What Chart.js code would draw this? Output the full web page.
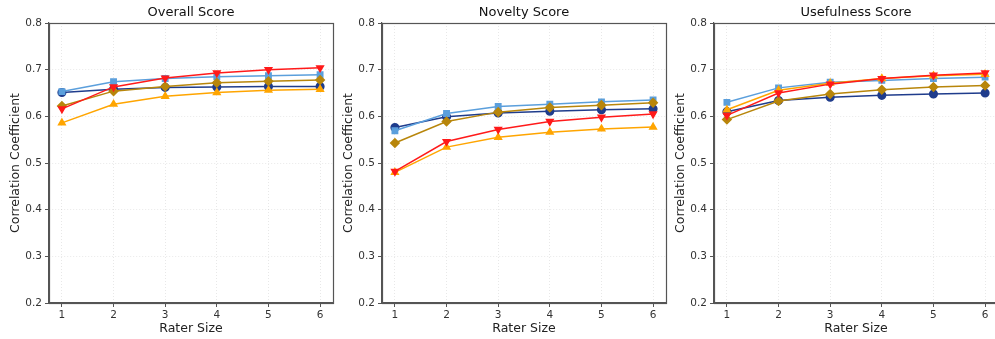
<!DOCTYPE html>
<html>
<head>
<meta charset="utf-8">
<script src="https://cdn.jsdelivr.net/npm/chart.js@4"></script>
<style>
    body { margin: 0; background: #fff; overflow: hidden; width: 995px; height: 339px; position: relative; }
    canvas { position: absolute; top: 0; }
</style>
</head>
<body>
<canvas id="overallChart" width="343" height="339" style="left:0px"></canvas>
<canvas id="noveltyChart" width="343" height="339" style="left:333px"></canvas>
<canvas id="usefulnessChart" width="343" height="339" style="left:665px"></canvas>
<script>
// Data
const raterSizes = [1, 2, 3, 4, 5, 6];
const yTicks = [0.2, 0.3, 0.4, 0.5, 0.6, 0.7, 0.8];

const overallDarkBlue  = [0.651, 0.658, 0.662, 0.663, 0.664, 0.664];
const overallLightBlue = [0.653, 0.674, 0.681, 0.685, 0.687, 0.689];
const overallRed       = [0.616, 0.663, 0.682, 0.693, 0.700, 0.704];
const overallOrange    = [0.586, 0.626, 0.643, 0.651, 0.656, 0.658];
const overallGold      = [0.622, 0.654, 0.664, 0.672, 0.675, 0.678];

const noveltyDarkBlue  = [0.576, 0.599, 0.607, 0.611, 0.614, 0.616];
const noveltyLightBlue = [0.569, 0.606, 0.621, 0.626, 0.631, 0.635];
const noveltyRed       = [0.482, 0.546, 0.572, 0.589, 0.598, 0.605];
const noveltyOrange    = [0.480, 0.534, 0.555, 0.566, 0.573, 0.577];
const noveltyGold      = [0.543, 0.589, 0.609, 0.619, 0.624, 0.629];

const usefulDarkBlue   = [0.610, 0.634, 0.641, 0.645, 0.648, 0.650];
const usefulLightBlue  = [0.630, 0.661, 0.673, 0.677, 0.681, 0.684];
const usefulRed        = [0.602, 0.650, 0.669, 0.681, 0.688, 0.693];
const usefulOrange     = [0.614, 0.656, 0.671, 0.681, 0.687, 0.690];
const usefulGold       = [0.593, 0.633, 0.648, 0.657, 0.663, 0.666];

const FONT = "'DejaVu Sans', sans-serif";
const SPINE = "#555";
const GRID = "rgba(0,0,0,0.09)";

// Draws the panel title and closes the axes box on top and right
const frameBox = {
    id: "frameBox",
    afterDraw(chart, args, opts) {
        const { ctx, chartArea: a } = chart;
        ctx.save();
        ctx.strokeStyle = SPINE;
        ctx.lineWidth = 1.2;
        ctx.strokeRect(Math.round(a.left) + 0.5, Math.round(a.top) + 0.5,
            Math.round(a.right - a.left), Math.round(a.bottom - a.top));
        ctx.fillStyle = "#111";
        ctx.font = "13px " + FONT;
        ctx.textAlign = "center";
        ctx.textBaseline = "middle";
        ctx.fillText(opts.text, (a.left + a.right) / 2, 13);
        ctx.restore();
    }
};

function series(label, data, color, style, rotation, order) {
    return {
        label: label,
        data: raterSizes.map((x, i) => ({ x: x, y: data[i] })),
        borderColor: color,
        backgroundColor: color,
        borderWidth: 1.5,
        pointStyle: style,
        pointRotation: rotation,
        pointRadius: style === "rectRot" ? 4.2 : 3.8,
        order: order,
    };
}

function makeChart(id, title, darkBlue, lightBlue, red, orange, gold) {
    const ctx = document.getElementById(id);
    return new Chart(ctx, {
        type: "line",
        data: {
            datasets: [
                series("Dark blue", darkBlue, "#1f3c8c", "circle", 0, 5),
                series("Light blue", lightBlue, "#5b9fdc", "rect", 0, 4),
                series("Red", red, "#ff1a1a", "triangle", 180, 1),
                series("Orange", orange, "#ffa500", "triangle", 0, 3),
                series("Gold", gold, "#b8860b", "rectRot", 0, 2),
            ]
        },
        options: {
            responsive: false,
            animation: false,
            layout: { padding: { top: 23, right: 10, left: 0, bottom: 0 } },
            plugins: {
                legend: { display: false },
                tooltip: { enabled: false },
                frameBox: { text: title }
            },
            scales: {
                x: {
                    type: "linear",
                    min: 0.75,
                    max: 6.25,
                    afterBuildTicks: (s) => { s.ticks = raterSizes.map(v => ({ value: v })); },
                    afterFit: (s) => { s.height = 36; },
                    ticks: { color: "#333", font: { family: FONT, size: 10.5 }, padding: 2, maxRotation: 0,
                        callback: (v) => String(v) },
                    grid: { color: GRID, tickColor: SPINE, tickLength: 4 },
                    border: { color: SPINE, width: 1.2, dash: [1, 2] },
                    title: { display: true, text: "Rater Size", color: "#222",
                        font: { family: FONT, size: 12.5 }, padding: { top: 0, bottom: 3 } }
                },
                y: {
                    min: 0.2,
                    max: 0.8,
                    afterBuildTicks: (s) => { s.ticks = yTicks.map(v => ({ value: v })); },
                    afterFit: (s) => { s.width = 49; },
                    ticks: { color: "#333", font: { family: FONT, size: 10.5 }, padding: 3,
                        callback: (v) => v.toFixed(1) },
                    grid: { color: GRID, tickColor: SPINE, tickLength: 4 },
                    border: { color: SPINE, width: 1.2, dash: [1, 2] },
                    title: { display: true, text: "Correlation Coefficient", color: "#222",
                        font: { family: FONT, size: 12.5 }, padding: { top: 8, bottom: 0 } }
                }
            }
        },
        plugins: [frameBox]
    });
}

window.onload = () => {
    makeChart("overallChart", "Overall Score",
        overallDarkBlue, overallLightBlue, overallRed, overallOrange, overallGold);
    makeChart("noveltyChart", "Novelty Score",
        noveltyDarkBlue, noveltyLightBlue, noveltyRed, noveltyOrange, noveltyGold);
    makeChart("usefulnessChart", "Usefulness Score",
        usefulDarkBlue, usefulLightBlue, usefulRed, usefulOrange, usefulGold);
};
</script>
</body>
</html>
